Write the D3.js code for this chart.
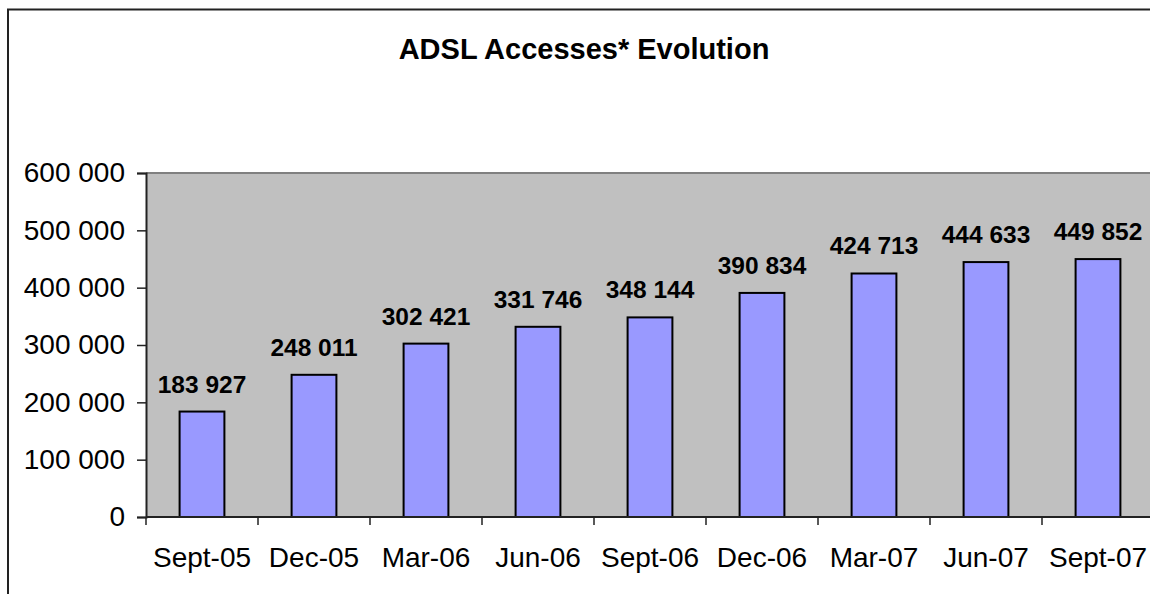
<!DOCTYPE html>
<html>
<head>
<meta charset="utf-8">
<script src="https://cdn.jsdelivr.net/npm/d3@7"></script>
<style>
  body { margin: 0; background: #fff; }
  svg { display: block; font-family: Arial, "Liberation Sans", sans-serif; }
</style>
</head>
<body>
<svg id="chart" width="1150" height="594"></svg>
<script>
// chart data
var chartTitle = 'ADSL Accesses* Evolution';
var periods = ['Sept-05', 'Dec-05', 'Mar-06', 'Jun-06', 'Sept-06', 'Dec-06', 'Mar-07', 'Jun-07', 'Sept-07'];
var accesses = [183927, 248011, 302421, 331746, 348144, 390834, 424713, 444633, 449852];
var yTicks = [0, 100000, 200000, 300000, 400000, 500000, 600000];

var svg = d3.select('#chart');

// plot area (right edge runs a bit past the window, like the source)
var margin = {top: 173, left: 146},
    width = 1008,
    height = 344;

// thousands with a space, e.g. 183 927
var fr = d3.formatLocale({decimal: ',', thousands: ' ', grouping: [3], currency: ['', '']});
var fmt = fr.format(',d');

var x = d3.scaleBand().domain(periods).range([0, width]).paddingInner(0.6).paddingOuter(0.3);
var xTicks = d3.scaleBand().domain(periods).range([0, width]);
var y = d3.scaleLinear().domain([0, 600000]).range([height, 0]);

// outer chart frame
svg.append('path')
    .attr('d', 'M8,600 L8,9.5 L1160,9.5')
    .attr('fill', 'none')
    .attr('stroke', '#222')
    .attr('stroke-width', 2);

// title
svg.append('text')
    .attr('x', 584)
    .attr('y', 59)
    .attr('text-anchor', 'middle')
    .style('font-weight', 'bold')
    .style('font-size', '29px')
    .text(chartTitle);

var g = svg.append('g')
    .attr('transform', 'translate(' + margin.left + ',' + margin.top + ')');

// gray plot background
g.append('rect')
    .attr('x', 0)
    .attr('y', 0)
    .attr('width', width)
    .attr('height', height)
    .attr('fill', '#c0c0c0');

g.append('line')
    .attr('x1', 0).attr('x2', width)
    .attr('y1', 0).attr('y2', 0)
    .attr('stroke', '#808080')
    .attr('stroke-width', 2);

// bars
g.selectAll('.bar')
    .data(accesses)
    .enter().append('rect')
    .attr('class', 'bar')
    .attr('x', function(d, i) { return x(periods[i]); })
    .attr('width', x.bandwidth())
    .attr('y', function(d) { return y(d); })
    .attr('height', function(d) { return height - y(d); })
    .attr('fill', '#9999ff')
    .attr('stroke', '#000')
    .attr('stroke-width', 2);

// value labels
g.selectAll('.val')
    .data(accesses)
    .enter().append('text')
    .attr('class', 'val')
    .attr('x', function(d, i) { return x(periods[i]) + x.bandwidth() / 2; })
    .attr('y', function(d) { return y(d) - 19; })
    .attr('text-anchor', 'middle')
    .style('font-weight', 'bold')
    .style('font-size', '24.5px')
    .text(function(d) { return fmt(d); });

// y axis
var yAxis = g.append('g')
    .call(d3.axisLeft(y).tickValues(yTicks).tickSize(9).tickPadding(12).tickFormat(fmt));
yAxis.select('.domain').attr('stroke', '#222').attr('stroke-width', 2);
yAxis.selectAll('.tick line').attr('stroke', '#222').attr('stroke-width', 1.5);
yAxis.selectAll('.tick text')
    .style('font-size', '28px')
    .attr('fill', '#000')
    .attr('font-family', null);

// x axis, ticks sit between categories
var xAxisG = g.append('g')
    .attr('transform', 'translate(0,' + height + ')');
xAxisG.append('line')
    .attr('x1', 0).attr('x2', width)
    .attr('stroke', '#222')
    .attr('stroke-width', 2);
xAxisG.selectAll('.xtick')
    .data(periods)
    .enter().append('line')
    .attr('class', 'xtick')
    .attr('x1', function(d) { return xTicks(d); })
    .attr('x2', function(d) { return xTicks(d); })
    .attr('y1', 0)
    .attr('y2', 8)
    .attr('stroke', '#222')
    .attr('stroke-width', 1.5);
xAxisG.selectAll('.xlab')
    .data(periods)
    .enter().append('text')
    .attr('class', 'xlab')
    .attr('x', function(d) { return xTicks(d) + xTicks.bandwidth() / 2; })
    .attr('y', 50)
    .attr('text-anchor', 'middle')
    .style('font-size', '28px')
    .text(function(d) { return d; });
</script>
</body>
</html>
